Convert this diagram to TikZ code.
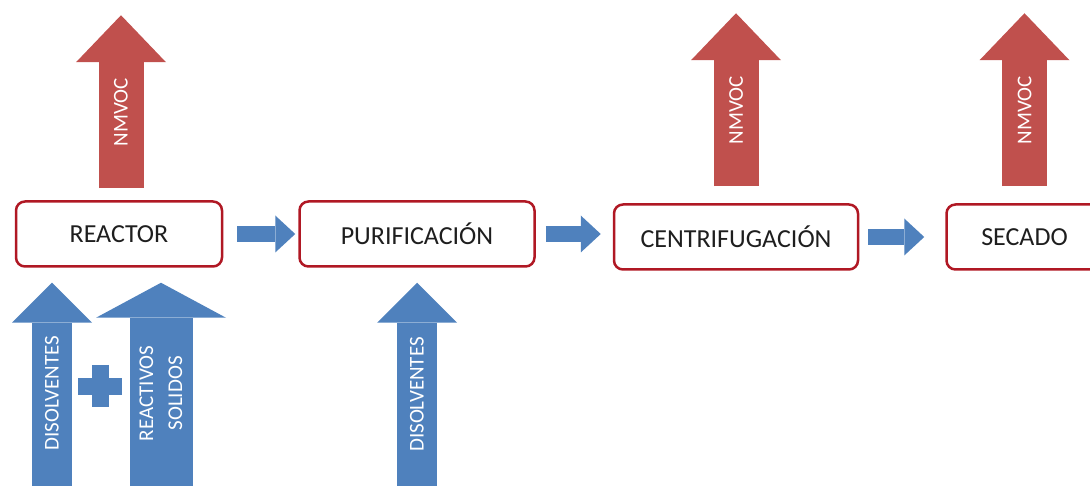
\documentclass[tikz,border=0pt]{standalone}
\usepackage{fontspec}
\setmainfont{Carlito}
\usetikzlibrary{arrows.meta, positioning, calc}
\definecolor{boxred}{RGB}{176,24,36}
\definecolor{vocred}{RGB}{192,80,77}
\definecolor{feedblue}{RGB}{79,129,189}
\definecolor{labelgray}{RGB}{30,30,30}

\begin{document}
\begin{tikzpicture}[
        x=1pt, y=-1pt,
        node distance=75pt,
        stage/.style={draw=boxred, line width=2.5pt, rounded corners=9pt, minimum height=65pt, text=labelgray, font=\fontsize{26}{30}\selectfont},
        voc/.style={vocred, line width=45pt, -{Triangle[length=47pt, width=90pt, line width=0pt]}},
        feed/.style={feedblue, line width=40pt, shorten >=15pt, -{Triangle[length=40pt, width=80pt, line width=0pt]}},
        widefeed/.style={feedblue, line width=63pt, shorten >=15pt, -{Triangle[length=35pt, width=130pt, line width=0pt]}},
        flow/.style={feedblue, line width=16pt, -{Triangle[length=20pt, width=37pt, line width=0pt]}},
        tag/.style={text=white, rotate=90, font=\fontsize{21}{29}\selectfont, align=center}
    ]
        \useasboundingbox (0,0) rectangle (1090,486);

        % process stages
        \node[stage, minimum width=206pt] (reactor) at (119,234) {REACTOR};
        \node[stage, minimum width=235pt, right=of reactor] (purif) {PURIFICACIÓN};
        \node[stage, minimum width=244pt, right=77pt of purif, yshift=-3pt] (centrif) {CENTRIFUGACIÓN};
        \node[stage, minimum width=156pt, right=86pt of centrif] (secado) {SECADO};

        % main line
        \draw[flow, shorten <=14pt, shorten >=3pt] (reactor) -- (purif);
        \draw[flow, shorten <=10pt, shorten >=12pt] (purif.east) -- (purif.east -| centrif.west);
        \draw[flow, shorten <=9pt, shorten >=21pt] (centrif.east) -- (secado.west);

        % emissions
        \draw[voc] ([xshift=2pt, yshift=12pt]reactor.north) -- ++(0,-173) node[tag, pos=0.44] {NMVOC};
        \draw[voc] ([yshift=17pt]centrif.north) -- ++(0,-173) node[tag, pos=0.44] {NMVOC};
        \draw[voc] ([yshift=17pt]secado.north) -- ++(0,-173) node[tag, pos=0.44] {NMVOC};

        % inputs
        \coordinate (disIn) at (52,490);
        \coordinate (solIn) at (161,490);
        \coordinate (purIn) at (purif.south |- disIn);
        \draw[feed] (disIn) -- (disIn |- reactor.south) node[tag, pos=0.435] {DISOLVENTES};
        \draw[widefeed] (solIn) -- (solIn |- reactor.south) node[tag, pos=0.435] {REACTIVOS\\SOLIDOS};
        \draw[feed] (purIn) -- (purif.south) node[tag, pos=0.43] {DISOLVENTES};

        \coordinate (plus) at (100,386);
        \draw[feedblue, line width=17pt] ([xshift=-22pt]plus) -- ([xshift=22pt]plus) ([yshift=21pt]plus) -- ([yshift=-21pt]plus);
    \end{tikzpicture}
\end{document}
